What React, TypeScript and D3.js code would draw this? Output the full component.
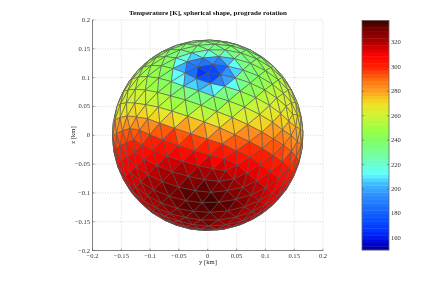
import React from "react";
import * as d3 from "d3";

const ticks = [-0.2, -0.15, -0.1, -0.05, 0, 0.05, 0.1, 0.15, 0.2];
const cbTicks = [160, 180, 200, 220, 240, 260, 280, 300, 320];
const cbDomain = [150, 338];
const radiusKm = 0.1655;
const colorStops = [150, 155, 165, 180, 195, 205, 212, 225, 240, 250, 262, 270, 280, 290, 300, 310, 320, 330, 338];
const colorValues = ["#000080", "#0000d0", "#0030ff", "#1060ff", "#3090ff", "#40c0ff", "#60ffff", "#70ffb0", "#80ff60", "#a0ff40", "#d8f030", "#f0e020", "#ffa020", "#ff6a10", "#ff2000", "#ff0000", "#b00000", "#7a0000", "#3a0000"];
// Temperature: columns y (km), rows z (km)
const gridY = [-0.165, -0.124, -0.082, -0.041, 0, 0.041, 0.082, 0.124, 0.165];
const gridZ = [0.165, 0.139, 0.113, 0.087, 0.061, 0.035, 0.009, -0.017, -0.043, -0.069, -0.095, -0.121, -0.147, -0.168];
const gridT = [
  [245, 245, 245, 243, 240, 242, 245, 245, 245],
  [250, 250, 245, 232, 225, 232, 240, 248, 252],
  [252, 250, 245, 228, 215, 225, 240, 252, 255],
  [258, 258, 245, 232, 225, 225, 240, 255, 258],
  [262, 262, 255, 240, 235, 245, 255, 262, 262],
  [270, 275, 268, 262, 258, 262, 262, 268, 268],
  [285, 290, 292, 287, 280, 278, 280, 282, 275],
  [298, 302, 305, 302, 298, 296, 295, 290, 282],
  [305, 310, 313, 315, 312, 308, 305, 300, 295],
  [310, 316, 322, 325, 324, 320, 315, 308, 300],
  [310, 318, 328, 333, 335, 330, 322, 312, 305],
  [305, 315, 325, 333, 336, 332, 322, 310, 305],
  [300, 308, 318, 328, 332, 325, 315, 305, 300],
  [300, 305, 312, 320, 322, 318, 310, 300, 298],
];
// Finer readings over the cold patch
const patchY = [-0.057, -0.031, -0.014, 0, 0.014, 0.031, 0.056];
const patchZ = [0.144, 0.13, 0.117, 0.103, 0.089, 0.075];
const patchT = [
  [235, 228, 222, 222, 225, 232, 240],
  [222, 200, 190, 195, 190, 200, 225],
  [215, 185, 170, 172, 172, 190, 218],
  [215, 195, 165, 165, 170, 195, 212],
  [228, 205, 205, 190, 195, 195, 222],
  [238, 225, 215, 215, 225, 232, 240],
];

const frequency = 7;
const apexElevation = 0.71;
const apexRoll = 0.21;

const color = d3.scaleLinear<string>().domain(colorStops).range(colorValues).interpolate(d3.interpolateRgb);
const levels = 64;
const quant = (t: number) => {
  const s = (cbDomain[1] - cbDomain[0]) / levels;
  return cbDomain[0] + (Math.min(levels - 1, Math.floor((t - cbDomain[0]) / s)) + 0.5) * s;
};

function lookup(ys: number[], zs: number[], g: number[][], yv: number, zv: number) {
  const iy = d3.scaleLinear().domain(ys).range(ys.map((_, i) => i)).clamp(true)(yv);
  const iz = d3.scaleLinear().domain(zs).range(zs.map((_, i) => i)).clamp(true)(zv);
  const y0 = Math.min(ys.length - 2, Math.floor(iy));
  const z0 = Math.min(zs.length - 2, Math.floor(iz));
  const fy = iy - y0, fz = iz - z0;
  return (
    g[z0][y0] * (1 - fy) * (1 - fz) +
    g[z0][y0 + 1] * fy * (1 - fz) +
    g[z0 + 1][y0] * (1 - fy) * fz +
    g[z0 + 1][y0 + 1] * fy * fz
  );
}
function tempAt(yv: number, zv: number) {
  const inPatch = yv >= patchY[0] && yv <= patchY[patchY.length - 1] && zv <= patchZ[0] && zv >= patchZ[patchZ.length - 1];
  return inPatch ? lookup(patchY, patchZ, patchT, yv, zv) : lookup(gridY, gridZ, gridT, yv, zv);
}

type V = [number, number, number];
function icoFaces(): [V, V, V][] {
  const lat = Math.atan(0.5);
  const top: V = [0, 0, 1];
  const bot: V = [0, 0, -1];
  const up: V[] = [], low: V[] = [];
  for (let i = 0; i < 5; i++) {
    const a = (i * 2 * Math.PI) / 5;
    const b = a + Math.PI / 5;
    up.push([Math.cos(lat) * Math.cos(a), Math.cos(lat) * Math.sin(a), Math.sin(lat)]);
    low.push([Math.cos(lat) * Math.cos(b), Math.cos(lat) * Math.sin(b), -Math.sin(lat)]);
  }
  const f: [V, V, V][] = [];
  for (let i = 0; i < 5; i++) {
    const j = (i + 1) % 5;
    f.push([top, up[i], up[j]], [bot, low[j], low[i]], [up[i], low[i], up[j]], [up[j], low[i], low[j]]);
  }
  return f;
}
function norm(v: V): V {
  const l = Math.hypot(v[0], v[1], v[2]);
  return [v[0] / l, v[1] / l, v[2] / l];
}
function facets(n: number): [V, V, V][] {
  const out: [V, V, V][] = [];
  for (const [a, b, c] of icoFaces()) {
    const p = (i: number, j: number): V => {
      const k = n - i - j;
      return norm([0, 1, 2].map((d) => (a[d] * k + b[d] * i + c[d] * j) / n) as V);
    };
    for (let i = 0; i < n; i++)
      for (let j = 0; j < n - i; j++) {
        out.push([p(i, j), p(i + 1, j), p(i, j + 1)]);
        if (i + j < n - 1) out.push([p(i + 1, j), p(i + 1, j + 1), p(i, j + 1)]);
      }
  }
  return out;
}
function orient(v: V): V {
  const [x0, y0, z0] = v;
  const c = Math.cos(apexRoll), s = Math.sin(apexRoll);
  const x1 = c * x0 - s * y0, y1 = s * x0 + c * y0;
  const ce = Math.cos(apexElevation), se = Math.sin(apexElevation);
  return [se * x1 + ce * z0, y1, -ce * x1 + se * z0];
}

const x = d3.scaleLinear().domain([-0.2, 0.2]).range([92.5, 323]);
const y = d3.scaleLinear().domain([-0.2, 0.2]).range([250.5, 20]);
const cb = d3.scaleLinear().domain(cbDomain).range([250, 20.5]);
const serif = "'Liberation Serif', serif";
const fmt = (d: number) => (d === 0 ? "0" : String(d).replace("-", "\u2212"));

export default function App() {
  const polys = facets(frequency)
    .map((f) => f.map(orient) as [V, V, V])
    .map((f) => {
      const cen = norm([0, 1, 2].map((d) => (f[0][d] + f[1][d] + f[2][d]) / 3) as V);
      return { f, cen };
    })
    .filter((d) => d.cen[0] > -0.02)
    .sort((a, b) => a.cen[0] - b.cen[0]);
  const levelH = (cb(cbDomain[0]) - cb(cbDomain[1])) / levels;
  const levelVals = d3.range(levels).map((i) => cbDomain[0] + ((i + 0.5) * (cbDomain[1] - cbDomain[0])) / levels);
  const tick = "#555";
  return (
    <svg width={436} height={282} style={{ position: "absolute", left: 0, top: 0, opacity: 0.999, willChange: "opacity" }} fontFamily={serif}>
      {ticks.map((t) => (
        <g key={t} stroke="#ccc" strokeWidth={0.7} strokeDasharray="1 1.5">
          <line x1={x(t)} x2={x(t)} y1={y(-0.2)} y2={y(0.2)} />
          <line y1={y(t)} y2={y(t)} x1={x(-0.2)} x2={x(0.2)} />
        </g>
      ))}
      <line x1={x(-0.2)} x2={x(-0.2)} y1={y(-0.2)} y2={y(0.2)} stroke="#666" strokeWidth={0.8} />
      <line x1={x(-0.2)} x2={x(0.2)} y1={y(-0.2)} y2={y(-0.2)} stroke="#666" strokeWidth={0.8} />
      {ticks.map((t) => (
        <g key={t} stroke={tick} strokeWidth={0.6}>
          <line x1={x(t)} x2={x(t)} y1={y(-0.2)} y2={y(-0.2) - 2} />
          <line y1={y(t)} y2={y(t)} x1={x(-0.2)} x2={x(-0.2) + 2} />
        </g>
      ))}
      {ticks.map((t) => (
        <text key={t} x={x(t)} y={258} fontSize={6.6} textAnchor="middle" fill="#333">{fmt(t)}</text>
      ))}
      {ticks.map((t) => (
        <text key={t} x={90} y={y(t) + 2} fontSize={6.6} textAnchor="end" fill="#333">{fmt(t)}</text>
      ))}
      <text x={208} y={264} fontSize={6.6} textAnchor="middle" fill="#222">y [km]</text>
      <text transform="translate(75,135) rotate(-90)" fontSize={6.6} textAnchor="middle" fill="#222">z [km]</text>
      <text x={208} y={15} fontSize={7.05} fontWeight="bold" textAnchor="middle" fill="#111">Temperature [K], spherical shape, prograde rotation</text>

      <circle cx={x(0)} cy={y(0)} r={x(radiusKm) - x(0) + 0.2} fill="#444" />
      {polys.map((d, i) => {
        const pts = d.f.map((v) => [x(v[1] * radiusKm), y(v[2] * radiusKm)]);
        const t = tempAt(d.cen[1] * radiusKm, d.cen[2] * radiusKm);
        return (
          <polygon key={i} points={pts.map((p) => p.join(",")).join(" ")} fill={color(quant(t))} stroke="#5a5a5a" strokeWidth={0.55} strokeLinejoin="round" />
        );
      })}

      {levelVals.map((v) => (
        <rect key={v} x={362} width={27} y={cb(v) - levelH / 2 - 0.2} height={levelH + 0.4} fill={color(v)} />
      ))}
      <rect x={362} y={20.5} width={27} height={229.5} fill="none" stroke="#666" strokeWidth={0.8} />
      {cbTicks.map((t) => (
        <g key={t}>
          <line x1={362} x2={364} y1={cb(t)} y2={cb(t)} stroke={tick} strokeWidth={0.6} />
          <line x1={387} x2={389} y1={cb(t)} y2={cb(t)} stroke={tick} strokeWidth={0.6} />
          <text x={391} y={cb(t) + 2} fontSize={6.6} fill="#333">{t}</text>
        </g>
      ))}
    </svg>
  );
}
